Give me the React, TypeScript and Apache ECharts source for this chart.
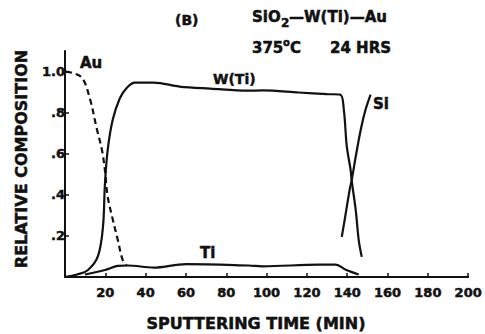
import React, { useEffect, useRef } from "react";
import * as echarts from "echarts";

// Sputtering time (min) vs relative composition
const wtiData: [number, number][] = [
  [0, 0], [6, 0.012], [11.4, 0.034], [16.3, 0.1], [18.8, 0.24], [19.8, 0.45],
  [21.2, 0.62], [23.7, 0.766], [27.2, 0.87], [30.6, 0.92], [34.6, 0.946],
  [44, 0.946], [56.8, 0.927], [72, 0.917], [91, 0.907], [98, 0.908],
  [116, 0.898], [130, 0.89], [136.5, 0.888], [138.3, 0.815], [139.8, 0.634],
  [141.7, 0.52], [142.2, 0.47], [144.2, 0.327], [145.7, 0.18], [147.2, 0.098],
];
const auData: [number, number][] = [
  [0.5, 1.0], [3, 0.995], [8.4, 0.97], [12.3, 0.87], [15.8, 0.72], [18.3, 0.62],
  [19.8, 0.52], [21.2, 0.39], [23.7, 0.28], [26.2, 0.18], [28.6, 0.083],
  [30.6, 0.055],
];
const tiData: [number, number][] = [
  [9.9, 0.012], [19.8, 0.034], [26.2, 0.054], [31, 0.056], [44, 0.046],
  [55.3, 0.059], [60.2, 0.063], [91, 0.056], [98, 0.052], [126, 0.06],
  [134.3, 0.06], [139.3, 0.035], [145.7, 0.012],
];
const siData: [number, number][] = [
  [137.3, 0.195], [139.3, 0.312], [141.2, 0.424], [142.2, 0.47], [144.2, 0.585],
  [146.7, 0.717], [149.1, 0.815], [151.6, 0.888],
];
const xTicks = [20, 40, 60, 80, 100, 120, 140, 160, 180, 200];
const yTicks = [0.2, 0.4, 0.6, 0.8, 1.0];
const yTickLabels = [".2", ".4", ".6", ".8", "1.0"];

const FONT = "DejaVu Sans";
const INK = "#111";

export default function App() {
  const ref = useRef<HTMLDivElement>(null);
  useEffect(() => {
    document.body.style.margin = "0";
    const chart = echarts.init(ref.current!, null, { renderer: "svg" });
    const series = (data: [number, number][], dashed = false) => ({
      type: "line",
      data,
      smooth: 0.35,
      showSymbol: false,
      lineStyle: { color: INK, width: 2.2, type: dashed ? [6, 4] : "solid" },
      silent: true,
    });
    const txt = (text: string, x: number, y: number, size = 15, extra: any = {}) => ({
      type: "text",
      x,
      y,
      style: {
        text,
        fill: INK,
        font: `bold ${size}px "${FONT}"`,
        textAlign: "left",
        textVerticalAlign: "middle",
        stroke: INK,
        lineWidth: 0.5,
        ...extra,
      },
    });
    chart.setOption({
      animation: false,
      backgroundColor: "#fff",
      grid: { left: 65, right: 15, top: 51, bottom: 57 },
      xAxis: {
        type: "value",
        min: 0,
        max: 200,
        interval: 20,
        splitLine: { show: false },
        axisLine: { lineStyle: { color: INK, width: 2 } },
        axisTick: { inside: true, length: 4, lineStyle: { color: INK, width: 1.5 }, customValues: xTicks },
        axisLabel: {
          customValues: xTicks,
          color: INK,
          fontFamily: FONT,
          fontWeight: "bold",
          fontSize: 13,
          margin: 9,
          textBorderColor: INK,
          textBorderWidth: 0.5,
        },
      },
      yAxis: {
        type: "value",
        min: 0,
        max: 1.1,
        splitLine: { show: false },
        axisLine: { show: true, lineStyle: { color: INK, width: 2 } },
        axisTick: { show: true, inside: true, length: 4, lineStyle: { color: INK, width: 1.5 }, customValues: yTicks },
        axisLabel: {
          customValues: yTicks,
          formatter: (v: number) => {
            const i = yTicks.findIndex((t) => Math.abs(t - v) < 1e-6);
            return i >= 0 ? yTickLabels[i] : "";
          },
          color: INK,
          fontFamily: FONT,
          fontWeight: "bold",
          fontSize: 13,
          margin: 0,
          textBorderColor: INK,
          textBorderWidth: 0.5,
        },
      },
      series: [series(wtiData), series(auData, true), series(tiData), series(siData)],
      graphic: [
        txt("(B)", 175, 20, 14),
        txt("SiO", 252, 17, 15),
        txt("2", 281, 23, 12),
        txt("—W(Ti)—Au", 289, 17, 15),
        txt("375", 252, 48, 15),
        txt("o", 283, 42, 10),
        txt("C", 290, 48, 15),
        txt("24 HRS", 330, 48, 15),
        txt("Au", 80, 63, 15),
        txt("W(Ti)", 213, 79, 14),
        txt("Si", 373, 104, 15),
        txt("Ti", 200, 253, 15),
        txt("SPUTTERING TIME (MIN)", 256, 323, 16, { textAlign: "center" }),
        {
          type: "text",
          x: 21,
          y: 159,
          rotation: Math.PI / 2,
          style: {
            text: "RELATIVE COMPOSITION",
            fill: INK,
            font: `bold 16px "${FONT}"`,
            textAlign: "center",
            textVerticalAlign: "middle",
            stroke: INK,
            lineWidth: 0.5,
          },
        },
      ],
    });
    return () => chart.dispose();
  }, []);
  return (
    <div
      ref={ref}
      style={{ position: "absolute", left: 0, top: 0, width: 485, height: 334 }}
    />
  );
}
